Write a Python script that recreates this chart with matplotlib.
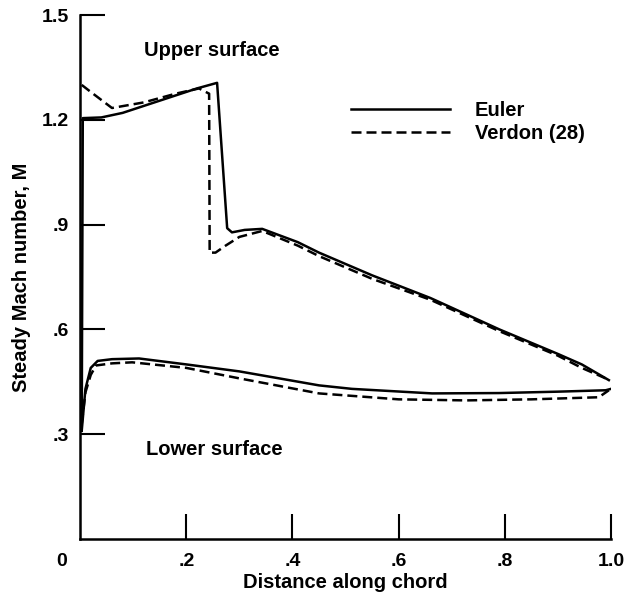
import matplotlib
matplotlib.use("Agg")
import matplotlib.pyplot as plt

plt.rcParams['font.family'] = ['Liberation Sans', 'DejaVu Sans']
plt.rcParams['font.weight'] = 'bold'
plt.rcParams['axes.labelweight'] = 'bold'

# Euler, upper surface
eu_up_x = [0.003, 0.005, 0.04, 0.08, 0.15, 0.22, 0.258, 0.277, 0.286, 0.31, 0.343,
           0.41, 0.45, 0.55, 0.66, 0.79, 0.90, 0.945, 0.996]
eu_up_y = [0.31, 1.205, 1.207, 1.22, 1.255, 1.29, 1.306, 0.89, 0.878, 0.885, 0.888,
           0.85, 0.82, 0.755, 0.69, 0.60, 0.53, 0.50, 0.455]
# Verdon (28), upper surface
ve_up_x = [0.003, 0.02, 0.06, 0.12, 0.18, 0.224, 0.243, 0.244, 0.255, 0.274, 0.30,
           0.343, 0.41, 0.45, 0.55, 0.66, 0.79, 0.90, 0.945, 0.99]
ve_up_y = [1.30, 1.28, 1.234, 1.25, 1.275, 1.29, 1.275, 0.82, 0.82, 0.84, 0.865,
           0.882, 0.84, 0.81, 0.745, 0.685, 0.595, 0.525, 0.49, 0.46]
# Euler, lower surface
eu_lo_x = [0.003, 0.01, 0.02, 0.033, 0.06, 0.111, 0.2, 0.3, 0.45, 0.512, 0.663, 0.789, 0.9, 0.99, 1.0]
eu_lo_y = [0.31, 0.43, 0.49, 0.51, 0.515, 0.517, 0.5, 0.48, 0.44, 0.43, 0.417, 0.418, 0.422, 0.426, 0.43]
# Verdon (28), lower surface
ve_lo_x = [0.003, 0.01, 0.02, 0.03, 0.06, 0.098, 0.2, 0.3, 0.45, 0.6, 0.727, 0.85, 0.977, 0.996]
ve_lo_y = [0.33, 0.42, 0.47, 0.497, 0.503, 0.506, 0.49, 0.46, 0.417, 0.40, 0.397, 0.40, 0.406, 0.426]

xticks = [0.2, 0.4, 0.6, 0.8, 1.0]
xlabels = ['.2', '.4', '.6', '.8', '1.0']
yticks = [0.3, 0.6, 0.9, 1.2, 1.5]
ylabels = ['.3', '.6', '.9', '1.2', '1.5']

fs = 14.5
tfs = 14

fig = plt.figure(figsize=(6.26, 6.03), dpi=100)
ax = fig.add_axes([0.128, 0.106, 0.848, 0.869])

lw = 1.8
ax.plot(eu_up_x, eu_up_y, color='black', lw=lw, label='Euler')
ax.plot(ve_up_x, ve_up_y, color='black', lw=lw, dashes=(4, 2), label='Verdon (28)')
ax.plot(eu_lo_x, eu_lo_y, color='black', lw=lw)
ax.plot(ve_lo_x, ve_lo_y, color='black', lw=lw, dashes=(4, 2))

ax.set_xlim(0, 1.0)
ax.set_ylim(0, 1.5)
for s in ['top', 'right']:
    ax.spines[s].set_visible(False)
for s in ['left', 'bottom']:
    ax.spines[s].set_linewidth(1.8)

ax.set_xticks(xticks)
ax.set_xticklabels(xlabels)
ax.set_yticks(yticks)
ax.set_yticklabels(ylabels)
ax.tick_params(axis='both', direction='in', length=18, width=1.5, labelsize=tfs)
ax.tick_params(axis='x', pad=10)
ax.tick_params(axis='y', pad=8)
ax.text(-0.035, -0.04, '0', transform=ax.transData, ha='center', va='top', fontsize=tfs,
        clip_on=False)

ax.set_xlabel('Distance along chord', fontsize=fs, labelpad=2)
ax.set_ylabel('Steady Mach number, M', fontsize=fs, labelpad=8)

ax.text(0.249, 1.40, 'Upper surface', ha='center', va='center', fontsize=fs)
ax.text(0.252, 0.257, 'Lower surface', ha='center', va='center', fontsize=fs)

ax.legend(loc='upper left', bbox_to_anchor=(0.476, 0.870), frameon=False, fontsize=fs,
          handlelength=4.9, handletextpad=1.25, labelspacing=0.2)

fig.savefig('out.png', dpi=100)
